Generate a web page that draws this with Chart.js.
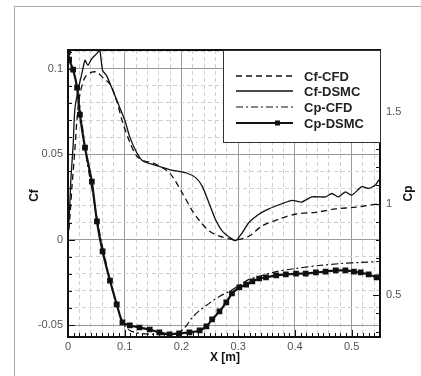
<!DOCTYPE html>
<html>
<head>
<meta charset="utf-8">
<script src="https://cdn.jsdelivr.net/npm/chart.js@4.4.1/dist/chart.umd.min.js"></script>
<style>
  body { margin: 0; background: #fff; }
  #frame { position: absolute; left: 14px; top: 6px; width: 420px; height: 380px;
           border-left: 1px solid #aaa; border-top: 1px solid #aaa; }
  #wrap { position: absolute; left: 0; top: 0; width: 421px; height: 376px; }
</style>
</head>
<body>
<div id="frame"></div>
<div id="wrap"><canvas id="cfCpCanvas" width="421" height="376"></canvas></div>
<script>
// Cf-DSMC (solid)
var xCfDsmc = [0, 0.0035, 0.005, 0.009, 0.012, 0.018, 0.025, 0.030, 0.035, 0.042, 0.051, 0.056, 0.061, 0.068, 0.077, 0.088,
    0.100, 0.109, 0.121, 0.132, 0.149, 0.179, 0.209, 0.226, 0.237, 0.249, 0.261, 0.272, 0.288, 0.296, 0.307, 0.319,
    0.337, 0.354, 0.377, 0.395, 0.412, 0.430, 0.454, 0.465, 0.477, 0.489, 0.500, 0.518, 0.530, 0.542, 0.548];
var cfDsmc = [0, 0.023, 0.035, 0.055, 0.076, 0.088, 0.098, 0.105, 0.102, 0.106, 0.109, 0.111, 0.099, 0.096, 0.089, 0.080,
    0.070, 0.060, 0.051, 0.046, 0.044, 0.041, 0.039, 0.036, 0.031, 0.021, 0.011, 0.005, 0.0006, -0.0006, 0.004, 0.010,
    0.015, 0.018, 0.021, 0.023, 0.022, 0.025, 0.025, 0.027, 0.025, 0.028, 0.026, 0.031, 0.030, 0.032, 0.035];

// Cf-CFD (dashed)
var xCfCfd = [0, 0.0035, 0.007, 0.012, 0.016, 0.021, 0.030, 0.042, 0.051, 0.061, 0.074, 0.086, 0.096, 0.109, 0.121, 0.135,
    0.149, 0.167, 0.179, 0.188, 0.202, 0.219, 0.232, 0.249, 0.267, 0.289, 0.298, 0.319, 0.342, 0.372, 0.402, 0.437,
    0.472, 0.507, 0.548];
var cfCfd = [0, 0.014, 0.031, 0.052, 0.071, 0.085, 0.095, 0.098, 0.098, 0.095, 0.091, 0.081, 0.069, 0.057, 0.049, 0.046,
    0.045, 0.042, 0.039, 0.035, 0.027, 0.017, 0.011, 0.005, 0.002, 0.0002, 0, 0.002, 0.008, 0.012, 0.015, 0.016,
    0.018, 0.019, 0.021];

// Cp-CFD (dash-dot)
var xCpCfd = [0, 0.0035, 0.011, 0.018, 0.025, 0.033, 0.044, 0.054, 0.065, 0.077, 0.088, 0.098, 0.109, 0.126, 0.153, 0.179,
    0.196, 0.209, 0.219, 0.232, 0.249, 0.267, 0.284, 0.302, 0.319, 0.337, 0.367, 0.402, 0.442, 0.482, 0.518, 0.548];
var cpCfd = [1.83, 1.787, 1.705, 1.596, 1.432, 1.240, 1.049, 0.869, 0.705, 0.546, 0.421, 0.339, 0.306, 0.290, 0.284, 0.284,
    0.295, 0.333, 0.377, 0.415, 0.454, 0.492, 0.519, 0.552, 0.585, 0.601, 0.628, 0.645, 0.661, 0.672, 0.678, 0.683];

// Cp-DSMC (solid + squares)
var xCpDsmc = [0, 0.002, 0.009, 0.016, 0.021, 0.030, 0.042, 0.051, 0.061, 0.074, 0.086, 0.096, 0.109, 0.126, 0.144, 0.161,
    0.179, 0.196, 0.214, 0.232, 0.244, 0.254, 0.267, 0.279, 0.289, 0.302, 0.314, 0.325, 0.337, 0.349, 0.367, 0.384,
    0.402, 0.419, 0.437, 0.454, 0.472, 0.489, 0.504, 0.516, 0.530, 0.544];
var cpDsmc = [1.83, 1.787, 1.732, 1.634, 1.486, 1.306, 1.120, 0.902, 0.738, 0.579, 0.448, 0.350, 0.333, 0.322, 0.311, 0.295,
    0.284, 0.290, 0.295, 0.306, 0.328, 0.366, 0.410, 0.459, 0.508, 0.541, 0.557, 0.574, 0.590, 0.596, 0.607, 0.612,
    0.617, 0.617, 0.623, 0.628, 0.634, 0.634, 0.628, 0.623, 0.612, 0.596];

var xTicks = { min: 0, max: 0.55, major: 0.1, minorGrid: 0.02, minorTick: 0.01 };
var cfTicks = { min: -0.057, max: 0.111, major: 0.05, minor: 0.01 };
var cpTicks = { min: 0.27, max: 1.84, major: 0.5, minor: 0.1 };

var seriesLabels = ['Cf-CFD', 'Cf-DSMC', 'Cp-CFD', 'Cp-DSMC'];

function pts(xs, ys) {
    return xs.map(function (x, i) { return { x: x, y: ys[i] }; });
}
function isMult(v, step) {
    var r = Math.abs(v / step - Math.round(v / step));
    return r < 1e-6;
}
function fmt(v) {
    return String(+v.toFixed(3));
}

var INK = '#111';
var tickFont = { family: 'Liberation Sans, Arial, sans-serif', size: 11 };
var MINOR_DASH = [4, 3];

// inward tick marks, frame, axis titles, legend
var decorPlugin = {
    id: 'decor',
    afterDatasetsDraw: function (chart) {
        var ctx = chart.ctx, a = chart.chartArea;
        var sx = chart.scales.x, sy = chart.scales.y, sy2 = chart.scales.y2;
        var v, p, len;
        ctx.save();
        ctx.strokeStyle = INK;
        ctx.lineWidth = 1;
        ctx.setLineDash([]);
        ctx.beginPath();
        for (v = xTicks.min; v <= xTicks.max + 1e-9; v += xTicks.minorTick) {
            p = Math.round(sx.getPixelForValue(v)) + 0.5;
            len = isMult(v, xTicks.major) ? 7 : 4;
            ctx.moveTo(p, a.bottom); ctx.lineTo(p, a.bottom - len);
        }
        for (v = -0.05; v <= cfTicks.max + 1e-9; v += cfTicks.minor) {
            p = Math.round(sy.getPixelForValue(v)) + 0.5;
            len = isMult(v, cfTicks.major) ? 7 : 4;
            ctx.moveTo(a.left, p); ctx.lineTo(a.left + len, p);
        }
        for (v = 0.3; v <= cpTicks.max + 1e-9; v += cpTicks.minor) {
            p = Math.round(sy2.getPixelForValue(v)) + 0.5;
            len = isMult(v, cpTicks.major) ? 7 : 4;
            ctx.moveTo(a.right, p); ctx.lineTo(a.right - len, p);
        }
        ctx.stroke();

        // plot frame
        ctx.lineWidth = 2;
        ctx.strokeRect(a.left, a.top, a.right - a.left, a.bottom - a.top);

        // axis titles
        ctx.fillStyle = INK;
        ctx.font = 'bold 12px Liberation Sans, Arial, sans-serif';
        ctx.textAlign = 'center';
        ctx.textBaseline = 'middle';
        ctx.fillText('X [m]', (a.left + a.right) / 2 + 1, a.bottom + 21);
        ctx.save();
        ctx.translate(a.left - 33, (a.top + a.bottom) / 2 + 2);
        ctx.rotate(-Math.PI / 2);
        ctx.fillText('Cf', 0, 0);
        ctx.restore();
        ctx.save();
        ctx.translate(a.right + 29, (a.top + a.bottom) / 2);
        ctx.rotate(-Math.PI / 2);
        ctx.fillText('Cp', 0, 0);
        ctx.restore();

        // legend box in the top right corner
        var lw = 157, lh = 92;
        var lx = a.right - lw, ly = a.top;
        ctx.fillStyle = '#fff';
        ctx.fillRect(lx, ly, lw, lh);
        ctx.strokeStyle = '#333';
        ctx.lineWidth = 1;
        ctx.strokeRect(lx + 0.5, ly + 0.5, lw, lh);
        ctx.font = 'bold 13px Liberation Sans, Arial, sans-serif';
        ctx.textAlign = 'left';
        var rows = [26, 41, 57, 73];
        chart.data.datasets.forEach(function (ds, i) {
            var yy = ly + rows[i];
            ctx.strokeStyle = INK;
            ctx.lineWidth = ds.borderWidth;
            ctx.setLineDash(ds.borderDash || []);
            ctx.beginPath();
            ctx.moveTo(lx + 13, yy); ctx.lineTo(lx + 70, yy);
            ctx.stroke();
            ctx.setLineDash([]);
            if (ds.pointRadius > 0) {
                ctx.fillStyle = INK;
                ctx.fillRect(lx + 52, yy - 2.5, 5, 5);
            }
            ctx.fillStyle = '#222';
            ctx.fillText(seriesLabels[i], lx + 81, yy + 1);
        });
        ctx.restore();
    }
};

var config = {
    type: 'line',
    data: {
        datasets: [{
            label: seriesLabels[0],
            data: pts(xCfCfd, cfCfd),
            yAxisID: 'y',
            borderColor: INK,
            borderWidth: 1.3,
            borderDash: [6, 4],
            pointRadius: 0,
            tension: 0.3
        }, {
            label: seriesLabels[1],
            data: pts(xCfDsmc, cfDsmc),
            yAxisID: 'y',
            borderColor: INK,
            borderWidth: 1.3,
            pointRadius: 0,
            tension: 0.2
        }, {
            label: seriesLabels[2],
            data: pts(xCpCfd, cpCfd),
            yAxisID: 'y2',
            borderColor: INK,
            borderWidth: 1.2,
            borderDash: [7, 3, 2, 3],
            pointRadius: 0,
            tension: 0.3
        }, {
            label: seriesLabels[3],
            data: pts(xCpDsmc, cpDsmc),
            yAxisID: 'y2',
            borderColor: INK,
            backgroundColor: INK,
            borderWidth: 2.2,
            pointStyle: 'rect',
            pointRadius: 2.5,
            tension: 0.2
        }]
    },
    options: {
        responsive: false,
        animation: false,
        layout: { padding: { top: 50, left: 0, right: 0, bottom: 0 } },
        plugins: { legend: { display: false }, tooltip: { enabled: false } },
        scales: {
            x: {
                type: 'linear', position: 'bottom',
                min: xTicks.min, max: xTicks.max,
                ticks: { stepSize: xTicks.major, includeBounds: false, padding: 3, color: '#555', font: tickFont,
                         maxRotation: 0, autoSkip: false, callback: function (v) { return fmt(v); } },
                grid: { color: '#9a9a9a', lineWidth: 1, drawTicks: false },
                border: { display: false },
                afterFit: function (s) { s.height = 39; }
            },
            xMinor: {
                type: 'linear', position: 'bottom',
                min: xTicks.min, max: xTicks.max,
                ticks: { display: false, stepSize: xTicks.minorGrid, includeBounds: false },
                grid: { drawTicks: false, lineWidth: 1, borderDash: MINOR_DASH,
                        color: function (c) { return isMult(c.tick.value, xTicks.major) ? 'rgba(0,0,0,0)' : '#cfcfcf'; } },
                border: { display: false, dash: MINOR_DASH },
                afterFit: function (s) { s.height = 0; }
            },
            y: {
                type: 'linear', position: 'left',
                min: cfTicks.min, max: cfTicks.max,
                ticks: { stepSize: cfTicks.major, includeBounds: false, padding: 5, color: '#555', font: tickFont,
                         callback: function (v) { return fmt(v); } },
                grid: { color: '#9a9a9a', lineWidth: 1, drawTicks: false },
                border: { display: false },
                afterFit: function (s) { s.width = 68; }
            },
            yMinor: {
                type: 'linear', position: 'left',
                min: cfTicks.min, max: cfTicks.max,
                ticks: { display: false, stepSize: cfTicks.minor, includeBounds: false },
                grid: { drawTicks: false, lineWidth: 1, borderDash: MINOR_DASH,
                        color: function (c) { return isMult(c.tick.value, cfTicks.major) ? 'rgba(0,0,0,0)' : '#cfcfcf'; } },
                border: { display: false, dash: MINOR_DASH },
                afterFit: function (s) { s.width = 0; }
            },
            y2: {
                type: 'linear', position: 'right',
                min: cpTicks.min, max: cpTicks.max,
                ticks: { stepSize: cpTicks.major, includeBounds: false, padding: 6, color: '#555', font: tickFont,
                         callback: function (v) { return fmt(v); } },
                grid: { display: false, drawTicks: false },
                border: { display: false },
                afterFit: function (s) { s.width = 41; }
            }
        }
    },
    plugins: [decorPlugin]
};

new Chart(document.getElementById('cfCpCanvas'), config);
</script>
</body>
</html>
